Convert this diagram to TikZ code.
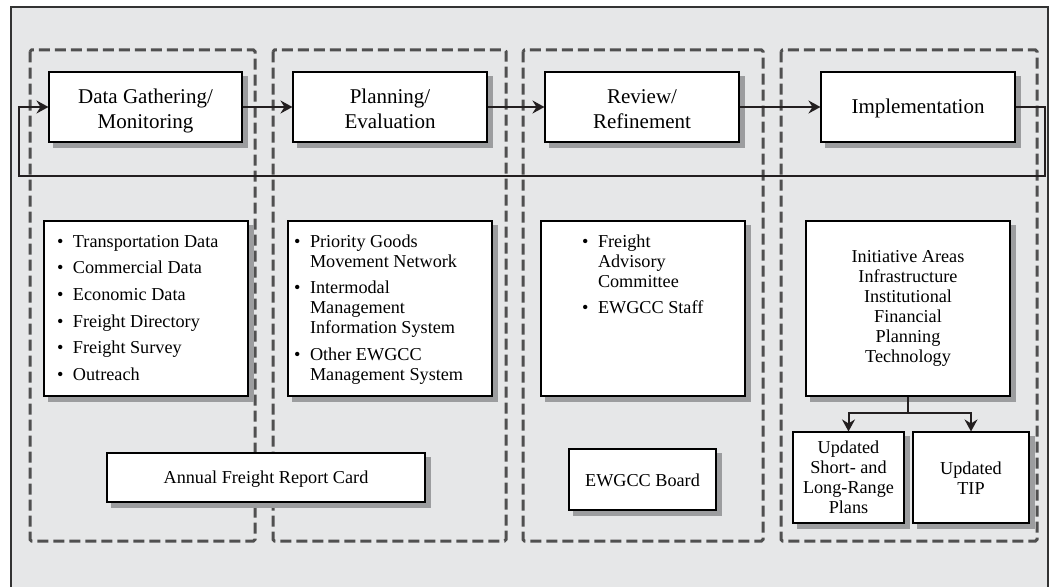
\documentclass[tikz,border=0pt]{standalone}
\usepackage{fontspec}
\setmainfont{Liberation Serif}
\usetikzlibrary{arrows.meta}
\definecolor{bgc}{HTML}{E6E7E8}
\definecolor{dashc}{HTML}{505050}
\definecolor{shadowc}{HTML}{9C9D9F}
\definecolor{inkc}{HTML}{231F20}
\newcommand\bl{\makebox[16pt][l]{\textbullet}}
\pgfdeclarelayer{backlayer}
\pgfdeclarelayer{shadowlayer}
\pgfsetlayers{backlayer,shadowlayer,main}
\begin{document}
\begin{tikzpicture}[x=1pt,y=-1pt,
  box/.style={draw=black, line width=1.1pt, fill=white, inner sep=0pt},
  ttl/.style={box, font=\fontsize{21}{25}\selectfont, minimum height=70pt},
  lst/.style={box, font=\fontsize{18.2}{20}\selectfont, minimum width=204pt, text height=26pt, text depth=149pt},
  sm/.style={box, font=\fontsize{18.2}{20}\selectfont},
  dbox/.style={draw=dashc, line width=3pt, dash pattern=on 11pt off 5pt, rounded corners=1.5pt},
  conn/.style={draw=inkc, line width=2pt},
  arr/.style={conn, -{Stealth[length=12pt,width=13pt,inset=4pt]}},
  shd/.style={fill=shadowc}
]
\useasboundingbox (0,0) rectangle (1054,586);
\begin{pgfonlayer}{backlayer}
\fill[white] (0,0) rectangle (1054,586);
\path[fill=bgc, draw=black!80, line width=1.6pt] (11,7) rectangle (1048,600);
% dashed groups
\draw[dbox] (30,50) rectangle (255,541);
\draw[dbox] (273,50) rectangle (506,541);
\draw[dbox] (523,50) rectangle (763,541);
\draw[dbox] (781,50) rectangle (1037,541);
\end{pgfonlayer}

% top row
\node[ttl, minimum width=193pt, text height=31pt, text depth=39pt] (data) at (145.5,107)
  {\begin{tabular}[t]{@{}c@{}}Data Gathering/\\Monitoring\end{tabular}};
\node[ttl, minimum width=194pt, text height=31pt, text depth=39pt] (plan) at (390,107)
  {\begin{tabular}[t]{@{}c@{}}Planning/\\Evaluation\end{tabular}};
\node[ttl, minimum width=194pt, text height=31pt, text depth=39pt] (rev) at (642,107)
  {\begin{tabular}[t]{@{}c@{}}Review/\\Refinement\end{tabular}};
\node[ttl, minimum width=194pt, text height=41pt, text depth=29pt] (impl) at (918,107)
  {Implementation};

% middle row
\node[lst] (m1) at (146,308.5) {\makebox[204pt][l]{\hspace{13pt}\begin{tabular}[t]{@{}l@{}l@{}}
\bl & Transportation Data\\[6.7pt]
\bl & Commercial Data\\[6.7pt]
\bl & Economic Data\\[6.7pt]
\bl & Freight Directory\\[6.7pt]
\bl & Freight Survey\\[6.7pt]
\bl & Outreach
\end{tabular}}};
\node[lst] (m2) at (390,308.5) {\makebox[204pt][l]{\hspace{6pt}\begin{tabular}[t]{@{}l@{}l@{}}
\bl & Priority Goods\\
    & Movement Network\\[6pt]
\bl & Intermodal\\
    & Management\\
    & Information System\\[7pt]
\bl & Other EWGCC\\
    & Management System
\end{tabular}}};
\node[lst] (m3) at (643,308.5) {\makebox[204pt][l]{\hspace{41pt}\begin{tabular}[t]{@{}l@{}l@{}}
\bl & Freight\\
    & Advisory\\
    & Committee\\[6pt]
\bl & EWGCC Staff
\end{tabular}}};
\node[lst, text height=41pt, text depth=134pt] (m4) at (908,308.5) {\begin{tabular}[t]{@{}c@{}}
Initiative Areas\\Infrastructure\\Institutional\\Financial\\Planning\\Technology
\end{tabular}};

% bottom row
\node[sm, minimum width=318pt, text height=30pt, text depth=19pt] (annual) at (266,477.5)
  {Annual Freight Report Card};
\node[sm, minimum width=147pt, text height=37pt, text depth=24pt] (board) at (642.5,479.5)
  {EWGCC Board};
\node[sm, minimum width=111pt, text height=21pt, text depth=70pt] (plans) at (848.5,477.5)
  {\begin{tabular}[t]{@{}c@{}}Updated\\Short- and\\Long-Range\\Plans\end{tabular}};
\node[sm, minimum width=116pt, text height=42pt, text depth=49pt] (tip) at (971,477.5)
  {\begin{tabular}[t]{@{}c@{}}Updated\\TIP\end{tabular}};

% shadows
\begin{pgfonlayer}{shadowlayer}
\foreach \n in {data,plan,rev,impl,m1,m2,m3,m4,annual,board,plans,tip}
  \fill[shd] ([shift={(5,5)}]\n.south west) rectangle ([shift={(5,5)}]\n.north east);
\end{pgfonlayer}

% connectors
\draw[arr] (data.east) -- (plan.west);
\draw[arr] (plan.east) -- (rev.west);
\draw[arr] (rev.east) -- (impl.west);
\coordinate (fbA) at (1045,107);
\coordinate (fbB) at (1045,176);
\coordinate (fbC) at (19,176);
\coordinate (fbD) at (19,107);
\draw[arr] (impl.east) -- (fbA) -- (fbB) -- (fbC) -- (fbD) -- (data.west);
\coordinate (br) at (908,413);
\draw[conn] (m4.south) -- (br);
\draw[arr] (br) -| (plans.north);
\draw[arr] (br) -| (tip.north);
\end{tikzpicture}
\end{document}
